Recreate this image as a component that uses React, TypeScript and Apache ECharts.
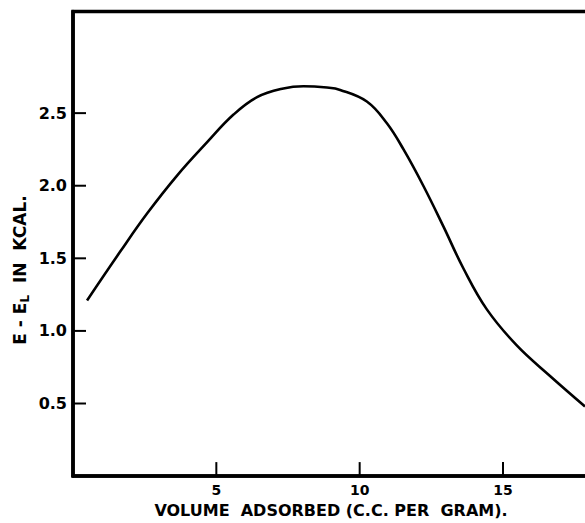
import React, { useEffect, useRef } from "react";
import * as echarts from "echarts";

const volumeAdsorbed = [0.49, 1.66, 2.59, 3.63, 4.68, 5.6, 6.42, 7.34, 8.04, 8.86, 9.32, 10.25, 10.95, 11.53, 12.22, 12.92, 13.62, 14.43, 15.48, 16.64, 17.86];
const energyKcal = [1.21, 1.55, 1.81, 2.07, 2.3, 2.49, 2.61, 2.67, 2.685, 2.676, 2.66, 2.58, 2.43, 2.25, 2.0, 1.72, 1.43, 1.15, 0.9, 0.69, 0.48];
const xTickValues = [5, 10, 15];
const yTickValues = [0.5, 1.0, 1.5, 2.0, 2.5];
const xAxisTitle = "VOLUME  ADSORBED (C.C. PER  GRAM).";

const FONT = "DejaVu Sans";

export default function App() {
  const ref = useRef<HTMLDivElement>(null);
  useEffect(() => {
    if (!ref.current) return;
    const chart = echarts.init(ref.current, null, { renderer: "svg" });
    const data = volumeAdsorbed.map((x, i) => [x, energyKcal[i]]);
    chart.setOption({
      animation: false,
      backgroundColor: "#ffffff",
      grid: {
        left: 73,
        top: 11.5,
        bottom: 44.5,
        right: 11,
        show: true,
        borderColor: "#000",
        borderWidth: 3.5,
        backgroundColor: "transparent",
      },
      xAxis: {
        type: "value",
        min: 0,
        max: 18,
        interval: 5,
        name: xAxisTitle,
        nameLocation: "middle",
        nameGap: 24,
        nameTextStyle: { fontFamily: FONT, fontWeight: "bold", fontSize: 16, color: "#000" },
        axisLine: { show: true, onZero: false, lineStyle: { color: "#000", width: 3.5 } },
        axisTick: { show: false },
        axisLabel: { fontFamily: FONT, fontWeight: "bold", fontSize: 14, color: "#000", margin: 7, customValues: xTickValues },
        splitLine: { show: false },
      },
      yAxis: {
        type: "value",
        min: 0,
        max: 3.2,
        interval: 0.5,
        axisLine: { show: true, onZero: false, lineStyle: { color: "#000", width: 3.5 } },
        axisTick: { show: false },
        axisLabel: {
          fontFamily: FONT,
          fontWeight: "bold",
          fontSize: 16,
          color: "#000",
          margin: 6,
          customValues: yTickValues,
          formatter: (v: number) => v.toFixed(1),
        },
        splitLine: { show: false },
      },
      graphic: [
        {
          type: "text",
          x: 20,
          y: 270,
          rotation: Math.PI / 2,
          style: {
            text: "{a|E - E}{sub|L}{a|  IN  KCAL.}",
            align: "center",
            verticalAlign: "middle",
            fill: "#000",
            rich: {
              a: { fontFamily: FONT, fontWeight: "bold", fontSize: 17, fill: "#000" },
              sub: { fontFamily: FONT, fontWeight: "bold", fontSize: 12, fill: "#000", padding: [9, 0, 0, 0] },
            },
          },
        },
      ],
      series: [
        {
          type: "line",
          data,
          smooth: 0.4,
          showSymbol: false,
          lineStyle: { color: "#000", width: 2.6 },
        },
        {
          type: "custom",
          silent: true,
          clip: false,
          z: 5,
          data: yTickValues.map((v) => [1, v]),
          renderItem: (params: any, api: any) => {
            const p = api.coord([0, api.value(1)]);
            return {
              type: "line",
              shape: { x1: p[0], y1: p[1], x2: p[0] + 13, y2: p[1] },
              style: { stroke: "#000", lineWidth: 2 },
            };
          },
        },
        {
          type: "custom",
          silent: true,
          clip: false,
          z: 5,
          data: xTickValues.map((v) => [v, 0.3]),
          renderItem: (params: any, api: any) => {
            const p = api.coord([api.value(0), 0]);
            return {
              type: "line",
              shape: { x1: p[0], y1: p[1], x2: p[0], y2: p[1] - 14 },
              style: { stroke: "#000", lineWidth: 2 },
            };
          },
        },
      ],
    });
    return () => chart.dispose();
  }, []);
  return (
    <div style={{ position: "absolute", left: 0, top: 0, width: 585, height: 523, overflow: "hidden", background: "#fff" }}>
      <div ref={ref} style={{ width: 600, height: 523 }} />
    </div>
  );
}
